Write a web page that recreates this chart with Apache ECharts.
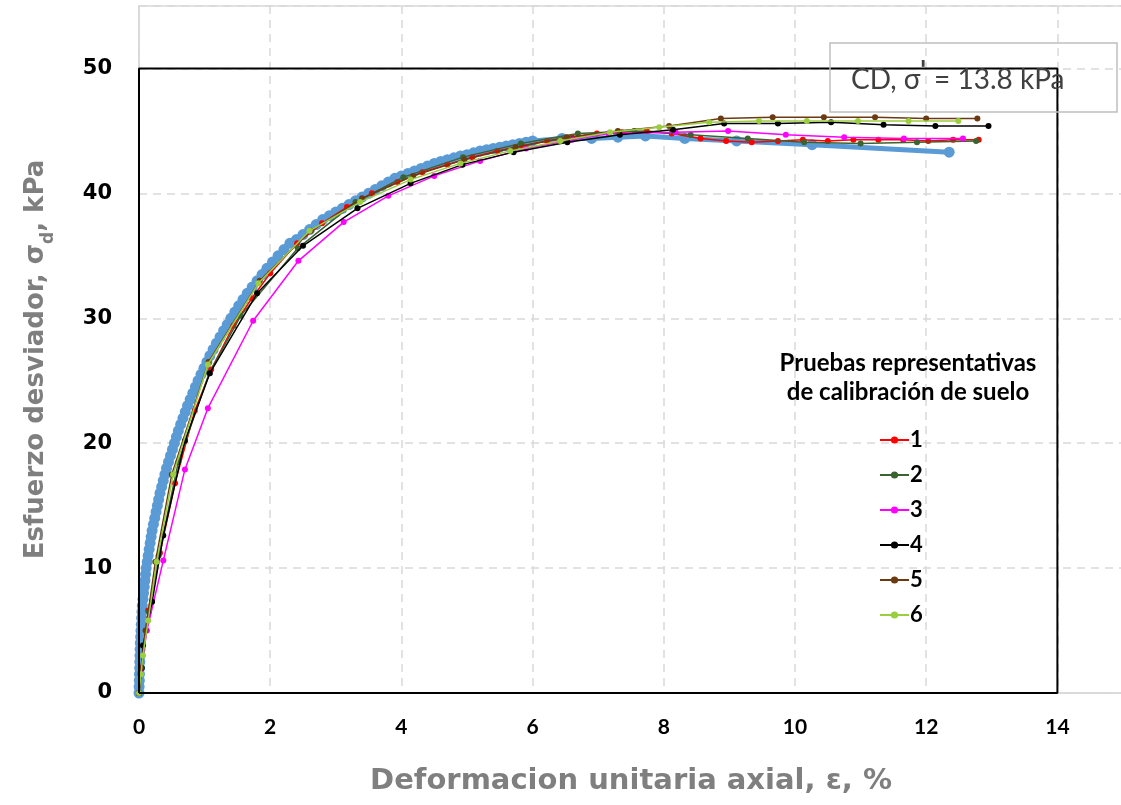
<!DOCTYPE html>
<html>
<head>
<meta charset="utf-8">
<script src="https://cdn.jsdelivr.net/npm/echarts@6/dist/echarts.min.js"></script>
<style>
html,body{margin:0;padding:0;background:#fff;overflow:hidden;}
#chart{width:1121px;height:805px;}
</style>
</head>
<body>
<div id="chart"></div>
<script>
// ---- Data (strain %, deviator stress kPa) ----
const xTicks = [0, 2, 4, 6, 8, 10, 12, 14];
const yTicks = [0, 10, 20, 30, 40, 50];

// Laboratory test (blue, dense)
const labData_x = [0,0.002,0.005,0.007,0.01,0.012,0.015,0.017,0.02,0.025,0.03,0.035,0.04,0.045,0.05,0.06,0.07,0.08,0.09,0.1,
  0.11,0.125,0.14,0.155,0.17,0.185,0.2,0.22,0.24,0.26,0.28,0.3,0.32,0.345,0.37,0.395,0.42,0.45,0.48,0.51,
  0.54,0.57,0.6,0.635,0.67,0.705,0.74,0.78,0.82,0.86,0.9,0.945,0.99,1.035,1.08,1.13,1.18,1.235,1.29,1.345,
  1.4,1.46,1.52,1.585,1.65,1.725,1.8,1.875,1.95,2.035,2.12,2.21,2.3,2.4,2.5,2.6,2.7,2.8,2.9,3.0,
  3.1,3.2,3.3,3.4,3.5,3.6,3.7,3.8,3.9,4.0,4.1,4.2,4.3,4.4,4.5,4.6,4.7,4.8,4.9,5.0,
  5.1,5.2,5.3,5.4,5.5,5.6,5.7,5.8,5.9,6.0,6.45,6.9,7.3,7.72,8.32,9.11,10.26,12.35];
const labData_y = [0,0.5,1,1.5,2,2.5,3,3.5,4,4.5,5,5.5,6,6.5,7,7.5,8,8.5,9,9.5,
  10,10.5,11,11.5,12,12.5,13,13.5,14,14.5,15,15.5,16,16.5,17,17.5,18,18.5,19,19.5,
  20,20.5,21,21.5,22,22.5,23,23.5,24,24.5,25,25.5,26,26.5,27,27.5,28,28.5,29,29.5,
  30,30.5,31,31.5,32,32.5,33,33.5,34,34.5,35,35.5,36,36.3,36.7,37.1,37.5,37.9,38.2,38.5,
  38.8,39.1,39.4,39.7,40.0,40.3,40.6,40.9,41.2,41.4,41.6,41.8,42.0,42.2,42.4,42.55,42.7,42.85,43.0,43.1,
  43.25,43.4,43.5,43.6,43.7,43.8,43.9,44.0,44.1,44.2,44.4,44.4,44.5,44.6,44.4,44.2,43.9,43.3];

// Model tests 1..6
const s1_x = [0,0.02,0.14,0.32,0.55,0.85,1.1,1.44,1.72,2.0,2.41,2.79,3.17,3.55,3.94,4.32,4.7,5.08,5.46,5.84,6.22,6.6,6.98,7.36,7.74,8.12,8.56,8.95,9.34,9.74,10.12,10.5,10.89,11.27,11.65,12.03,12.41,12.8];
const s1_y = [0,1.5,6.6,11.2,16.8,22.6,25.9,29.4,31.6,33.6,36.0,37.6,38.9,40.0,40.9,41.7,42.3,42.9,43.4,43.8,44.2,44.5,44.8,44.9,45.0,44.8,44.4,44.2,44.1,44.2,44.3,44.2,44.3,44.3,44.3,44.2,44.3,44.3];

const s2_x = [0,0.04,0.15,0.3,0.6,1.07,1.55,2.42,3.3,4.03,4.94,5.82,6.69,7.55,8.41,9.28,10.14,11.0,11.86,12.76];
const s2_y = [0,2.0,6.5,11.0,18.5,25.6,30.2,35.6,39.3,41.3,42.9,44.0,44.8,45.0,44.7,44.4,44.1,44.0,44.1,44.2];

const s3_x = [0,0.02,0.12,0.37,0.70,1.05,1.74,2.43,3.12,3.8,4.5,5.2,5.9,6.6,7.16,8.18,8.98,9.86,10.75,11.66,12.56];
const s3_y = [0,1.6,5.0,10.6,17.9,22.8,29.8,34.6,37.7,39.8,41.4,42.6,43.6,44.3,44.8,44.9,45.0,44.7,44.5,44.4,44.4];

const s4_x = [0,0.04,0.06,0.2,0.37,0.70,1.08,1.80,2.50,3.33,4.14,4.93,5.71,6.53,7.33,8.14,8.92,9.74,10.55,11.35,12.14,12.95];
const s4_y = [0,2.0,3.8,7.3,12.6,20.2,25.6,32.0,35.8,38.8,40.8,42.3,43.3,44.1,44.7,45.1,45.6,45.6,45.7,45.5,45.4,45.4];

const s5_x = [0,0.03,0.1,0.25,0.5,1.06,1.84,2.62,3.40,4.18,4.96,5.74,6.52,7.30,8.08,8.87,9.66,10.44,11.22,12.0,12.78];
const s5_y = [0,2.0,5.0,10.5,17.5,26.5,33.0,37.0,39.6,41.4,42.7,43.7,44.5,45.0,45.4,46.0,46.1,46.1,46.1,46.0,46.0];

const s6_x = [0,0.03,0.06,0.14,0.27,0.52,1.05,1.82,2.6,3.37,4.14,4.9,5.66,6.42,7.18,7.93,8.69,9.45,10.18,10.96,11.73,12.49];
const s6_y = [0,1.5,3.0,5.8,10.5,17.5,26.3,32.8,37.0,39.3,41.1,42.4,43.4,44.2,44.9,45.3,45.7,45.8,45.8,45.8,45.8,45.8];

// Plot frame (0..14 %, 0..50 kPa)
const frame_x = [0, 0, 14, 14, 0];
const frame_y = [0, 50, 50, 0, 0];

const seriesNames = ['1', '2', '3', '4', '5', '6'];
const seriesColors = ['#ff0000', '#3b6330', '#ff00ff', '#000000', '#6b3a12', '#9acd40'];
const modelX = [s1_x, s2_x, s3_x, s4_x, s5_x, s6_x];
const modelY = [s1_y, s2_y, s3_y, s4_y, s5_y, s6_y];

function zip(xs, ys) { return xs.map((x, i) => [x, ys[i]]); }

// measure annotation text pieces
const mctx = document.createElement('canvas').getContext('2d');
const noteFont = '28px Lato';
const primeFont = 'bold 24px "DejaVu Sans"';
mctx.font = noteFont;
const wPart1 = mctx.measureText('CD, σ').width;
mctx.font = primeFont;
const wPrime = mctx.measureText('\'').width;
const noteX = 851;

const chart = echarts.init(document.getElementById('chart'), null, {renderer: 'canvas', width: 1121, height: 805});

const series = [];
series.push({
  name: 'lab', type: 'line', data: zip(labData_x, labData_y),
  symbol: 'circle', symbolSize: 11, showSymbol: true, showAllSymbol: true,
  lineStyle: {color: '#5b9bd5', width: 5},
  itemStyle: {color: '#5b9bd5'},
  z: 2, silent: true
});
seriesNames.forEach((n, i) => {
  series.push({
    name: n, type: 'line', data: zip(modelX[i], modelY[i]),
    symbol: 'circle', symbolSize: 6, showAllSymbol: true,
    lineStyle: {color: seriesColors[i], width: 1.5},
    itemStyle: {color: seriesColors[i]},
    z: 3 + i
  });
});
series.push({
  name: 'frame', type: 'line', data: zip(frame_x, frame_y),
  symbol: 'none', lineStyle: {color: '#000', width: 2},
  z: 20, silent: true
});

const option = {
  animation: false,
  backgroundColor: '#fff',
  grid: {left: 139, width: 984, top: 6, bottom: 112, show: true, borderColor: '#d9d9d9', borderWidth: 1.5, backgroundColor: '#fff', containLabel: false, outerBoundsMode: 'none'},
  xAxis: {
    type: 'value', min: 0, max: 15, interval: 2,
    axisLine: {show: true, lineStyle: {color: '#d9d9d9', width: 1.5}},
    axisTick: {show: false},
    splitLine: {show: true, lineStyle: {color: '#d9d9d9', width: 1.5, type: [8, 6]}},
    axisLabel: {
      margin: 24, color: '#000', fontFamily: 'Lato', fontWeight: 'bold', fontSize: 21,
      showMaxLabel: false,
      formatter: v => xTicks.indexOf(v) >= 0 ? String(v) : ''
    },
    name: 'Deformacion unitaria axial, ε, %',
    nameLocation: 'middle', nameGap: 74,
    nameTextStyle: {color: '#7f7f7f', fontFamily: 'DejaVu Sans', fontWeight: 'bold', fontSize: 29}
  },
  yAxis: {
    type: 'value', min: 0, max: 55, interval: 10,
    axisLine: {show: true, lineStyle: {color: '#d9d9d9', width: 1.5}},
    axisTick: {show: false},
    splitLine: {show: true, lineStyle: {color: '#d9d9d9', width: 1.5, type: [8, 6]}},
    axisLabel: {
      margin: 27, color: '#000', fontFamily: 'DejaVu Sans', fontWeight: 'bold', fontSize: 21,
      showMaxLabel: false,
      formatter: v => yTicks.indexOf(v) >= 0 ? String(v) : ''
    },
    name: 'Esfuerzo desviador, σ{sub|d}, kPa',
    nameLocation: 'middle', nameGap: 82, nameRotate: 90,
    nameTextStyle: {
      color: '#7f7f7f', fontFamily: 'DejaVu Sans', fontWeight: 'bold', fontSize: 26,
      padding: [0, 20, 0, 0],
      rich: {sub: {color: '#7f7f7f', fontFamily: 'DejaVu Sans', fontWeight: 'bold', fontSize: 17, lineHeight: 42, verticalAlign: 'bottom'}}
    }
  },
  legend: {
    data: seriesNames,
    orient: 'vertical', left: 874, top: 424,
    itemWidth: 29, itemHeight: 9, itemGap: 13,
    textStyle: {color: '#000', fontFamily: 'Lato', fontWeight: 'bold', fontSize: 22, lineHeight: 20, padding: [0, 0, 0, -4]},
    selectedMode: false
  },
  graphic: [
    {
      type: 'text', z: 30,
      style: {
        text: 'Pruebas representativas\nde calibración de suelo',
        x: 908, y: 349, align: 'center', verticalAlign: 'top',
        fontFamily: 'Lato', fontWeight: 'bold', fontSize: 24, lineHeight: 29, fill: '#000'
      }
    },
    {
      type: 'rect', z: 30,
      shape: {x: 830, y: 43, width: 287, height: 69},
      style: {fill: 'none', stroke: '#bfbfbf', lineWidth: 1.5}
    },
    {
      type: 'text', z: 31,
      style: {text: 'CD, σ', x: noteX, y: 80, verticalAlign: 'middle', font: noteFont, fill: '#404040'}
    },
    {
      type: 'text', z: 31,
      style: {text: '\'', x: noteX + wPart1 - 1, y: 60, verticalAlign: 'top', font: primeFont, fill: '#404040'}
    },
    {
      type: 'text', z: 31,
      style: {text: ' = 13.8 kPa', x: noteX + wPart1 + wPrime - 1, y: 80, verticalAlign: 'middle', font: noteFont, fill: '#404040'}
    }
  ],
  series: series
};
chart.setOption(option);
</script>
</body>
</html>
